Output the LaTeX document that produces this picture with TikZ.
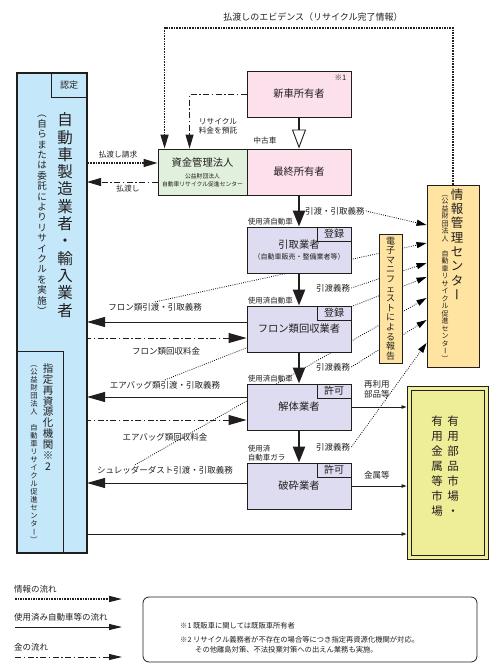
\documentclass[tikz,border=0pt]{standalone}
\usepackage{fontspec}
\setmainfont{Noto Sans CJK JP}
\usepackage{graphicx}
\usetikzlibrary{arrows.meta,backgrounds}

\definecolor{ink}{RGB}{35,30,30}
\definecolor{makerblue}{RGB}{196,232,250}
\definecolor{ownerpink}{RGB}{252,224,236}
\definecolor{fundgreen}{RGB}{224,240,220}
\definecolor{dealerlav}{RGB}{222,220,240}
\definecolor{centerorange}{RGB}{254,228,160}
\definecolor{marketyellow}{RGB}{238,238,152}

\newcommand\jfs[2]{\fontsize{#1}{#2}\selectfont}

% vertical (tategaki) stacking of characters
\makeatletter
\newcommand\tate[2][1.1em]{%
  \vbox{\baselineskip=#1\relax\lineskiplimit=-\maxdimen\lineskip=0pt
    \tate@#2\@nil}}
\def\tate@#1{%
  \ifx\@nil#1\else
    \hbox to 1em{\hss\tate@ch{#1}\hss}%
    \expandafter\tate@
  \fi}
\def\tate@ch#1{%
  \ifx#1ー\tate@rot{#1}\else
  \ifx#1（\tate@rot{#1}\else
  \ifx#1）\tate@rot{#1}\else
  #1\fi\fi\fi}
\def\tate@rot#1{\rotatebox[origin=c]{-90}{\makebox[1em]{\vphantom{国}#1}}}
\makeatother

\tikzset{
  box/.style={draw=ink, line width=0.9pt, minimum width=104pt, minimum height=46pt,
    inner sep=1pt, align=center, font=\jfs{10.3}{12}},
  owner/.style={box, fill=ownerpink},
  dealer/.style={box, fill=dealerlav},
  tag/.style={draw=ink, line width=0.8pt, fill=dealerlav, minimum width=34pt,
    minimum height=14pt, inner sep=0pt, anchor=north east, font=\jfs{10}{11}},
  lbl/.style={inner sep=1pt, font=\jfs{8.5}{10}},
  used/.style={inner sep=1pt, anchor=south west, align=left, font=\jfs{7.5}{9}},
  infoflow/.style={line width=1.5pt, dash pattern=on 1.5pt off 1.1pt},
  infoline/.style={line width=0.8pt, dash pattern=on 0.8pt off 1.4pt,
    -{Triangle[length=10pt,width=6pt]}},
  money/.style={line width=0.9pt, dash pattern=on 6pt off 2.5pt on 1.5pt off 2.5pt},
  goods/.style={line width=0.9pt},
  bigtip/.style={-{Triangle[length=18pt,width=10pt]}},
  bigback/.style={{Triangle[length=18pt,width=10pt]}-},
  midtip/.style={-{Triangle[length=14pt,width=8pt]}},
  midback/.style={{Triangle[length=14pt,width=8pt]}-},
  tinytip/.style={-{Triangle[length=5pt,width=3.5pt]}},
  legtip/.style={-{Triangle[length=13pt,width=6pt]}},
  carflow/.style={line width=2.4pt, -{Triangle[length=16pt,width=12pt]}},
}

\begin{document}
\begin{tikzpicture}[x=1pt, y=-1pt, color=ink]
  \useasboundingbox (0,0) rectangle (500,667);

  % manufacturers / designated body
  \node[fill=makerblue, minimum width=70pt, minimum height=480pt, inner sep=0pt, outer sep=0pt] (maker) at (52,313) {};
  \node[draw, line width=0.8pt, minimum width=46pt, minimum height=202pt, inner sep=0pt] (agency) at (40,452) {};
  \node[tag, fill=makerblue, minimum width=35pt, minimum height=24pt, font=\jfs{9}{10}] (nintei) at (maker.north east) {認定};
  \draw[line width=2.6pt] (maker.north west) rectangle (maker.south east);
  \node[font=\jfs{15.5}{17}] (makername) at (65,215) {\tate[17.3pt]{自動車製造業者・輸入業者}};
  \node[font=\jfs{9.5}{10}] (makernote) at (42,212) {\tate[10.4pt]{（自らまたは委託によりリサイクルを実施）}};
  \node[font=\jfs{10.5}{11}] (agencyname) at (48,417) {\tate[10.9pt]{指定再資源化機関※2}};
  \node[font=\jfs{7.3}{8}] (agencynote) at (34,452) {\tate[8pt]{（公益財団法人　自動車リサイクル促進センター）}};

  % owners and fund
  \node[owner] (newowner) at (299,94) {新車所有者};
  \node[font=\jfs{7.5}{8}, anchor=north east, inner sep=0pt] at ([xshift=-5pt,yshift=-4pt]newowner.north east) {※1};
  \node[owner] (lastowner) at (299,172) {最終所有者};
  \node[box, fill=fundgreen, minimum width=89pt] (fund) at (202.5,172)
    {資金管理法人\\[0pt]{\jfs{5.8}{7}公益財団法人}\\[-4pt]{\jfs{5.8}{7}自動車リサイクル促進センター}};

  % dealers
  \node[dealer] (taker) at (299,250) {引取業者\\[-1pt]\jfs{7}{8}（自動車販売・整備業者等）};
  \node[tag] at (taker.north east) {登録};
  \node[dealer] (fluoro) at (299,329) {フロン類回収業者};
  \node[tag] at (fluoro.north east) {登録};
  \node[dealer] (dismantler) at (299,407) {解体業者};
  \node[tag] at (dismantler.north east) {許可};
  \node[dealer] (shredder) at (299,486) {破砕業者};
  \node[tag] at (shredder.north east) {許可};

  % centre, manifest, market
  \node[draw, line width=0.9pt, fill=centerorange, minimum width=52pt, minimum height=182pt] (info) at (453,276) {};
  \node[font=\jfs{12.5}{14}] at (457,245) {\tate[14.3pt]{情報管理センター}};
  \node[font=\jfs{7}{8}] at (445,276) {\tate[7.5pt]{（公益財団法人　自動車リサイクル促進センター）}};
  \node[draw, line width=0.9pt, fill=centerorange, minimum width=23pt, minimum height=129pt, inner sep=0pt,
    font=\jfs{9}{10}] (manifest) at (390.5,298.5) {\tate[9.6pt]{電子マニフェストによる報告}};
  \node[draw, line width=1pt, fill=marketyellow, minimum width=81pt, minimum height=173pt] (market) at (447.5,472.5) {};
  \node[draw, line width=0.8pt, minimum width=73pt, minimum height=165pt] at (market.center) {};
  \node[font=\jfs{11.5}{13}] at (453,466) {\tate[15pt]{有用部品市場・}};
  \node[font=\jfs{11.5}{13}] at (437,466) {\tate[15pt]{有用金属等市場}};

  % flow of cars
  \draw[line width=2.4pt, -{Triangle[fill=white, length=19pt, width=14pt, line width=0.9pt]}] (newowner) -- (lastowner);
  \node[lbl, font=\jfs{7.7}{9}] at (265,141) {中古車};
  \draw[carflow] (lastowner) -- (taker);
  \draw[carflow] (taker) -- (fluoro);
  \draw[carflow] (fluoro) -- (dismantler);
  \draw[carflow] (dismantler) -- (shredder);
  \node[used] at (taker.north west) {使用済自動車};
  \node[used] at (fluoro.north west) {使用済自動車};
  \node[used] at (dismantler.north west) {使用済自動車};
  \node[used] at (shredder.north west) {使用済\\自動車ガラ};
  \node[lbl, anchor=west] (dut0) at (304,211) {引渡・引取義務};
  \node[lbl, anchor=west] (dut1) at (315,288) {引渡義務};
  \node[lbl, anchor=west] (dut2) at (315,367) {引渡義務};
  \node[lbl, anchor=west] (dut3) at (315,447) {引渡義務};

  % to market
  \draw[goods, tinytip] (dismantler.east) -- (dismantler.east -| market.west);
  \draw[goods, tinytip] (shredder.east) -- (shredder.east -| market.west);
  \draw[goods, tinytip] ([yshift=-221pt]maker.east) coordinate (m1) -- (m1 -| market.west);
  \node[lbl, align=left, anchor=west] at (363,389) {再利用\\部品等};
  \node[lbl, anchor=west] at (363,475) {金属等};

  % fund and deposit
  \node[lbl, font=\jfs{9}{10}] (evid) at (313,17) {払渡しのエビデンス（リサイクル完了情報）};
  \coordinate (evtop) at (0,28);
  \coordinate (evin) at ([xshift=7pt]fund.north west);
  \coordinate (depin) at ([xshift=32pt]fund.north west);
  \draw[infoflow, midtip] (info.north) |- (evin |- evtop) -- (evin);
  \draw[money, midtip] (newowner.west) -| (depin);
  \node[lbl, font=\jfs{7.7}{9.5}, align=center] at (218,126) {リサイクル\\料金を預託};
  \draw[infoflow, midback] ([yshift=9pt]fund.west) coordinate (p1) -- (p1 -| maker.east);
  \draw[money, midtip] ([yshift=-10pt]fund.west) coordinate (p2) -- (p2 -| maker.east);
  \node[lbl, font=\jfs{7.7}{9}] at (118,155) {払渡し請求};
  \node[lbl, font=\jfs{7.7}{9}] at (128,189) {払渡し};

  % returned parts and fees
  \draw[goods, bigtip] ([yshift=7pt]fluoro.west) coordinate (f1) -- (f1 -| maker.east);
  \draw[money, bigback] ([yshift=-9pt]fluoro.west) coordinate (f2) -- (f2 -| maker.east);
  \draw[goods, bigtip] ([yshift=10pt]dismantler.west) coordinate (d1) -- (d1 -| maker.east);
  \draw[money, bigback] ([yshift=-13pt]dismantler.west) coordinate (d2) -- (d2 -| maker.east);
  \draw[goods, bigtip] ([yshift=3pt]shredder.west) coordinate (s1) -- (s1 -| maker.east);
  \node[lbl] (fluoroduty) at (155,307) {フロン類引渡・引取義務};
  \node[lbl] at (166,351) {フロン類回収料金};
  \node[lbl] (airduty) at (165,385) {エアバッグ類引渡・引取義務};
  \node[lbl] at (165,437) {エアバッグ類回収料金};
  \node[lbl] (shredduty) at (165,470) {シュレッダーダスト引渡・引取義務};

  % reports to the centre
  \begin{scope}[on background layer]
    \draw[infoline] (dut0.east) -- ([yshift=51pt]info.west);
    \draw[infoline] (fluoroduty.north) -- ([yshift=33pt]info.west);
    \draw[infoline] (dut1.east) -- ([yshift=13pt]info.west);
    \draw[infoline] (airduty.north) -- ([yshift=-1pt]info.west);
    \draw[infoline] ([xshift=-30pt]shredduty.north) -- ([yshift=-22pt]info.west);
    \draw[infoline] (dut2.east) -- ([yshift=-44pt]info.west);
    \draw[infoline] (dut3.east) -- ([yshift=-67pt]info.west);
  \end{scope}

  % legend
  \node[lbl, anchor=west] (leg1) at (13,589) {情報の流れ};
  \node[lbl, anchor=west] (leg2) at (13,617) {使用済み自動車等の流れ};
  \node[lbl, anchor=west] (leg3) at (13,647) {金の流れ};
  \coordinate (l1a) at (15,599); \coordinate (l1b) at (122,599);
  \coordinate (l2a) at (15,627); \coordinate (l2b) at (122,627);
  \coordinate (l3a) at (15,657); \coordinate (l3b) at (122,657);
  \draw[infoflow, legtip] (l1a) -- (l1b);
  \draw[goods, legtip] (l2a) -- (l2b);
  \draw[money, legtip] (l3a) -- (l3b);

  % notes
  \node[draw, line width=0.8pt, rounded corners=6pt, minimum width=334pt, minimum height=65pt] (notes) at (310,629.5) {};
  \node[anchor=west, inner sep=0pt, font=\jfs{7.3}{9}] at (180,626) {※1 既販車に関しては既販車所有者};
  \node[anchor=west, inner sep=0pt, font=\jfs{7.3}{9}] at (180,640) {※2 リサイクル義務者が不存在の場合等につき指定再資源化機関が対応。};
  \node[anchor=west, inner sep=0pt, font=\jfs{7.3}{9}] at (195,650) {その他離島対策、不法投棄対策への出えん業務も実施。};
\end{tikzpicture}
\end{document}
